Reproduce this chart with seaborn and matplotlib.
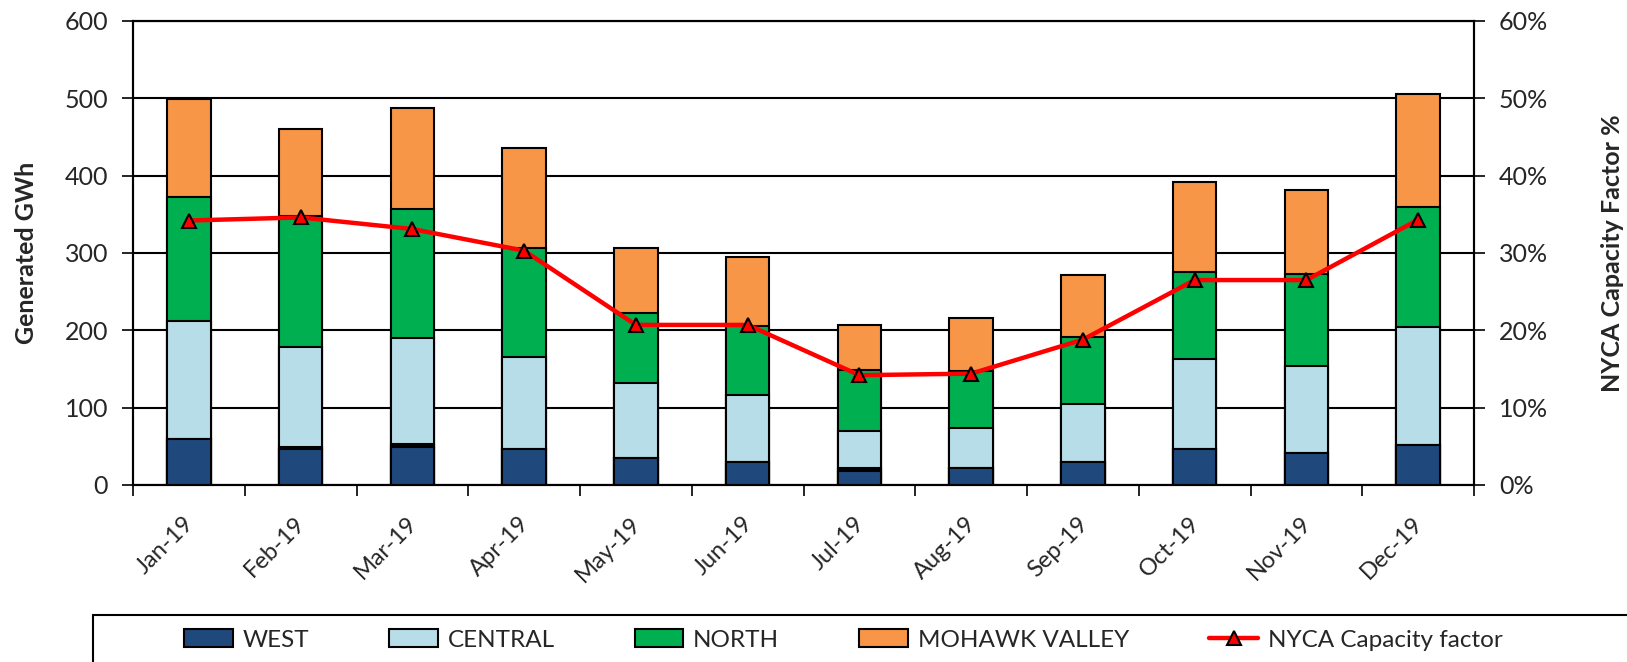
import numpy as np
import pandas as pd
import matplotlib
matplotlib.use("Agg")
import matplotlib.pyplot as plt
from matplotlib.patches import Patch, Rectangle
from matplotlib.lines import Line2D
from matplotlib.ticker import FuncFormatter, FixedLocator
from matplotlib.transforms import ScaledTranslation
import seaborn as sns

# ---------------- data ----------------
months = ["Jan-19", "Feb-19", "Mar-19", "Apr-19", "May-19", "Jun-19",
          "Jul-19", "Aug-19", "Sep-19", "Oct-19", "Nov-19", "Dec-19"]
west = [60, 46, 49, 47, 35, 30, 18, 22, 30, 47, 41, 52]
other = [0, 3.5, 3.5, 0, 0, 0, 4.5, 0, 0, 0, 0, 0]
central = [152, 129, 137, 119, 97, 86, 47, 52, 75, 116, 113, 152]
north = [160, 169, 168, 140, 91, 90, 79, 73, 86, 113, 119, 155]
mohawk = [127, 113, 130, 130, 83, 89, 59, 69, 80, 116, 108, 146]
cap_factor = [0.342, 0.346, 0.331, 0.303, 0.207, 0.207, 0.142, 0.144, 0.188, 0.265, 0.265, 0.343]

series_names = ["WEST", "CENTRAL", "NORTH", "MOHAWK VALLEY"]
colors = {"WEST": "#1F497D", "OTHER": "#000000", "CENTRAL": "#B7DEE8",
          "NORTH": "#00B050", "MOHAWK VALLEY": "#F79646"}
line_label = "NYCA Capacity factor"

# ---------------- figure ----------------
sns.set_theme(style="white")
plt.rcParams["font.family"] = ["Lato", "DejaVu Sans"]

W, H = 1627, 662
fig = plt.figure(figsize=(W / 100, H / 100), dpi=100)
ax_l, ax_r, ax_t, ax_b = 133, 1474, 21, 485
ax = fig.add_axes([ax_l / W, 1 - ax_b / H, (ax_r - ax_l) / W, (ax_b - ax_t) / H])

df = pd.DataFrame({"month": months, "WEST": west, "OTHER": other,
                   "CENTRAL": central, "NORTH": north, "MOHAWK VALLEY": mohawk})
stack_order = ["WEST", "OTHER", "CENTRAL", "NORTH", "MOHAWK VALLEY"]
cum = df[stack_order].cumsum(axis=1)

# draw cumulative bars from the top segment down so they appear stacked
for name in reversed(stack_order):
    sns.barplot(x=df["month"], y=cum[name], ax=ax, color=colors[name],
                saturation=1, edgecolor="black", linewidth=1.5, width=0.39,
                errorbar=None, order=months, zorder=3)

ax.set_ylim(0, 600)
ax.set_yticks(np.arange(0, 601, 100))
ax.set_xlim(-0.5, 11.5)
ax.set_xlabel("")
ax.set_ylabel("")
ax.yaxis.grid(True, color="black", linewidth=1.5)
ax.set_axisbelow(True)
for s in ax.spines.values():
    s.set_color("black")
    s.set_linewidth(1.5)

ax.tick_params(axis="y", direction="out", length=8, width=1.2, color="black",
               labelsize=18, pad=10, left=True)
ax.set_xticks(np.arange(len(months)))
ax.set_xticklabels(months, rotation=45, ha="right", rotation_mode="anchor")
ax.tick_params(axis="x", which="major", length=0, labelsize=17, pad=20)
ax.xaxis.set_minor_locator(FixedLocator(np.arange(-0.5, 12, 1)))
ax.tick_params(axis="x", which="minor", direction="out", length=8, width=1.2,
               color="black", bottom=True)

# secondary axis with capacity factor line
ax2 = ax.twinx()
sns.lineplot(x=np.arange(len(months)), y=cap_factor, ax=ax2, color="#FF0000",
             linewidth=3.2, marker="^", markersize=10, markerfacecolor="#FF0000",
             markeredgecolor="black", markeredgewidth=1.5, zorder=5)
ax2.set_ylim(0, 0.6)
ax2.set_yticks(np.arange(0, 0.61, 0.1))
ax2.yaxis.set_major_formatter(FuncFormatter(lambda v, p: f"{v * 100:.0f}%"))
ax2.tick_params(axis="y", direction="out", length=8, width=1.2, color="black",
                labelsize=18, pad=10, right=True)
ax2.set_xlim(-0.5, 11.5)
ax2.set_ylabel("")
ax2.grid(False)
for s in ax2.spines.values():
    s.set_color("black")
    s.set_linewidth(1.5)

# shift x tick labels slightly left (applied after all tick setup)
fig.canvas.draw()
shift = ScaledTranslation(-6 / 100, 0, fig.dpi_scale_trans)
for lab in ax.get_xticklabels():
    lab.set_transform(lab.get_transform() + shift)

# axis titles
fig.text(26 / W, 1 - 253 / H, "Generated GWh", rotation=90, ha="center",
         va="center", fontsize=18, fontweight="bold")
fig.text(1612 / W, 1 - 253 / H, "NYCA Capacity Factor %", rotation=90,
         ha="center", va="center", fontsize=18, fontweight="bold")

# legend
handles = [Patch(facecolor=colors[n], edgecolor="black", linewidth=1.5) for n in series_names]
handles.append(Line2D([0], [0], color="#FF0000", linewidth=3.2, marker="^",
                      markersize=10, markerfacecolor="#FF0000",
                      markeredgecolor="black", markeredgewidth=1.5))
labels = series_names + [line_label]
leg = fig.legend(handles, labels, ncol=5, loc="center left",
                 bbox_to_anchor=(184 / W, 1 - 640 / H), frameon=False,
                 fontsize=17.5, borderpad=0, borderaxespad=0, handlelength=2.0,
                 handleheight=0.75, handletextpad=0.4, columnspacing=3.3)
fig.add_artist(Rectangle((93 / W, -0.1), 1.0, 0.1 + (H - 615) / H,
                         transform=fig.transFigure, fill=False,
                         edgecolor="black", linewidth=1.5, clip_on=False))

fig.savefig("out.png", dpi=100)
